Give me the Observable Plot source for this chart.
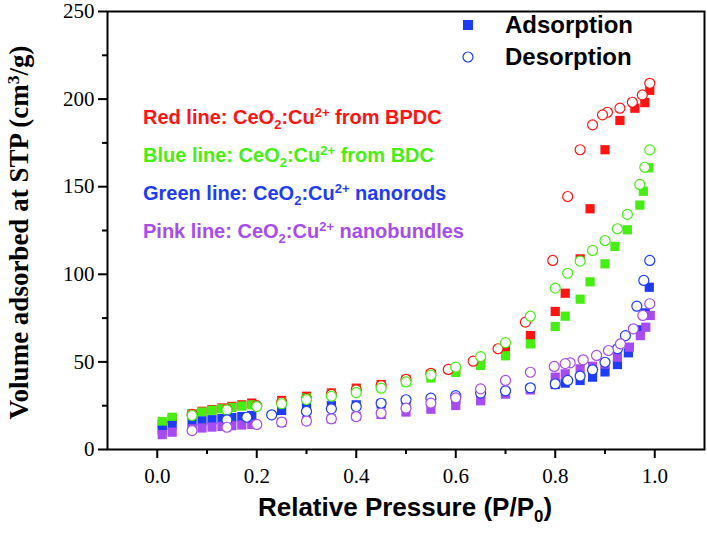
<!DOCTYPE html>
<html>
<head>
<meta charset="utf-8">
<script src="https://cdn.jsdelivr.net/npm/d3@7"></script>
<script src="https://cdn.jsdelivr.net/npm/@observablehq/plot@0.6"></script>
<style>
  html, body { margin: 0; padding: 0; background: white; }
  #wrap { position: relative; width: 707px; height: 536px; overflow: hidden; }
  .lbl { position: absolute; white-space: nowrap; font-family: "Liberation Sans", Arial, sans-serif; font-weight: bold; line-height: 1; }
  .lbl sub, .lbl sup { font-size: 0.65em; line-height: 0; }
  .lbl sub { vertical-align: -0.35em; }
  .lbl sup { vertical-align: 0.55em; }
</style>
</head>
<body>
<div id="wrap"></div>
<script>
// ---- data ----
const seriesNames = ["BPDC", "BDC", "nanorods", "nanobundles"];
const seriesColors = ["#ff1414", "#46ee14", "#1e3cf5", "#a64cf0"];

const xMajorTicks = [0, 0.2, 0.4, 0.6, 0.8, 1.0];
const xMinorTicks = [0.1, 0.3, 0.5, 0.7, 0.9];
const yMajorTicks = [0, 50, 100, 150, 200, 250];
const yMinorTicks = [25, 75, 125, 175, 225];

// Red: CeO2:Cu2+ from BPDC
const redAdsX = [0.01,0.03,0.07,0.09,0.11,0.13,0.15,0.17,0.19,0.25,0.30,0.35,0.40,0.45,0.50,0.55,0.60,0.65,0.70,0.75,0.80,0.82,0.85,0.87,0.90,0.93,0.96,0.98,0.99];
const redAdsY = [14.5,17.5,20.5,21.8,22.8,23.7,24.6,25.5,26.5,28,30.4,32.3,35,37.1,40,42.8,45.8,49.3,57,65,78.8,89.2,108.8,137.4,171.1,187.8,194.8,198,205];
const redDesX = [0.99,0.975,0.955,0.93,0.905,0.895,0.875,0.85,0.825,0.795,0.74,0.685,0.635,0.585,0.55,0.50,0.45,0.40,0.35,0.30,0.25,0.20,0.14,0.07];
const redDesY = [209,202.4,198.2,194.8,192.5,191,185.3,171.1,144.4,107.9,72.7,57.5,50.4,45.7,43.5,40,36.5,34,31.5,29,27,25,23,20];

// Green: CeO2:Cu2+ from BDC
const greenAdsX = [0.01,0.03,0.07,0.09,0.11,0.13,0.15,0.17,0.19,0.25,0.30,0.35,0.40,0.45,0.50,0.55,0.60,0.65,0.70,0.75,0.80,0.82,0.85,0.87,0.90,0.92,0.945,0.97,0.977,0.988];
const greenAdsY = [16,18.4,20.4,21.4,22.4,23.2,24,24.8,25.5,27,29.5,31.5,33.8,36,38.5,40.8,44,48,53.5,60.3,70.2,76.1,85.8,95.7,106,115.9,125.4,139.5,147.4,160.8];
const greenDesX = [0.99,0.98,0.97,0.945,0.925,0.90,0.875,0.85,0.825,0.80,0.75,0.70,0.65,0.60,0.55,0.50,0.45,0.40,0.35,0.30,0.25,0.20,0.14,0.07];
const greenDesY = [171,161.1,151.3,134.2,126,119.3,113.6,107.5,100.6,92.1,76.1,61,53,47,42.4,38.6,35,32.5,30.4,28.5,26.1,24.5,22.6,19.4];

// Blue: CeO2:Cu2+ nanorods
const blueAdsX = [0.01,0.03,0.07,0.09,0.11,0.13,0.15,0.17,0.19,0.25,0.30,0.35,0.40,0.45,0.50,0.55,0.60,0.65,0.70,0.75,0.80,0.82,0.85,0.875,0.90,0.925,0.947,0.971,0.981,0.989];
const blueAdsY = [11,13.7,15.6,16.3,17,17.6,18.2,18.8,19.4,22.3,24,25,25.5,26,26.2,27.2,28.5,29.9,31.8,34.6,37.1,37.9,39.4,41.3,44.3,48.5,55.2,68.3,78,92.6];
const blueDesX = [0.99,0.978,0.964,0.941,0.925,0.90,0.875,0.85,0.825,0.80,0.75,0.70,0.65,0.60,0.55,0.50,0.45,0.40,0.35,0.30,0.23,0.18,0.14];
const blueDesY = [107.9,96.5,81.8,65,57.5,49.8,45.5,41.9,39.4,37.5,35.2,33.5,32.2,30.7,29.3,28.4,26.4,24.5,23.2,21.7,19.8,18.4,16.9];

// Purple: CeO2:Cu2+ nanobundles
const purpleAdsX = [0.01,0.03,0.07,0.09,0.11,0.13,0.15,0.17,0.19,0.25,0.30,0.35,0.40,0.45,0.50,0.55,0.60,0.65,0.70,0.75,0.80,0.82,0.85,0.875,0.90,0.925,0.949,0.971,0.982,0.991];
const purpleAdsY = [8.5,9.9,11.8,12.3,12.8,13.2,13.6,14,14.3,15.5,16.5,17.5,19,20,21.4,23,25.1,27.8,31.8,34,41.3,43.2,46,47.5,48.8,52.7,58.4,65,69.8,76.5];
const purpleDesX = [0.99,0.976,0.957,0.931,0.907,0.883,0.856,0.83,0.82,0.798,0.75,0.70,0.65,0.60,0.55,0.50,0.45,0.40,0.35,0.30,0.25,0.20,0.14,0.07];
const purpleDesY = [83.2,76.5,68.9,60.3,56.5,53.7,51.2,49.5,49,47.4,44.1,39.4,34.6,29.5,26.5,23.6,20.7,18.8,17.5,16.2,15.6,14.3,12.7,10.8];

const labelTexts = [
  'Red line: CeO<sub>2</sub>:Cu<sup>2+</sup> from BPDC',
  'Blue line: CeO<sub>2</sub>:Cu<sup>2+</sup> from BDC',
  'Green line: CeO<sub>2</sub>:Cu<sup>2+</sup> nanorods',
  'Pink line: CeO<sub>2</sub>:Cu<sup>2+</sup> nanobundles'
];
const legendTexts = ["Adsorption", "Desorption"];
const xTitle = 'Relative Pressure (P/P<sub>0</sub>)';
const yTitle = 'Volume adsorbed at STP (cm<sup>3</sup>/g)';

// ---- build tables ----
const adsSets = [[redAdsX, redAdsY], [greenAdsX, greenAdsY], [blueAdsX, blueAdsY], [purpleAdsX, purpleAdsY]];
const desSets = [[redDesX, redDesY], [greenDesX, greenDesY], [blueDesX, blueDesY], [purpleDesX, purpleDesY]];
const ads = [], des = [];
adsSets.forEach(([xs, ys], i) => xs.forEach((x, j) => ads.push({x, y: ys[j], series: seriesNames[i]})));
desSets.forEach(([xs, ys], i) => xs.forEach((x, j) => des.push({x, y: ys[j], series: seriesNames[i]})));

const chart = Plot.plot({
  width: 707,
  height: 536,
  marginLeft: 107,
  marginRight: 3,
  marginTop: 11,
  marginBottom: 87,
  x: {domain: [-0.1, 1.1]},
  y: {domain: [0, 250]},
  color: {type: "ordinal", domain: seriesNames, range: seriesColors},
  style: {fontFamily: "'Liberation Serif', 'Times New Roman', serif", fontSize: "21px", color: "black", background: "white"},
  marks: [
    Plot.axisX({ticks: xMajorTicks, tickSize: 9, tickPadding: 10, tickFormat: d => d.toFixed(1), label: null, strokeWidth: 2}),
    Plot.axisX({ticks: xMinorTicks, tickSize: 5, text: null, label: null, strokeWidth: 2}),
    Plot.axisY({ticks: yMajorTicks, tickSize: 9, tickPadding: 4, label: null, strokeWidth: 2}),
    Plot.axisY({ticks: yMinorTicks, tickSize: 5, text: null, label: null, strokeWidth: 2}),
    Plot.dot(ads, {x: "x", y: "y", fill: "series", symbol: "square", r: 5.2}),
    Plot.dot(des, {x: "x", y: "y", stroke: "series", fill: "white", symbol: "circle", r: 5, strokeWidth: 1.2}),
    Plot.frame({stroke: "black", strokeWidth: 2})
  ]
});

const wrap = document.getElementById("wrap");
wrap.appendChild(chart);

function addLabel(html, css) {
  const d = document.createElement("div");
  d.className = "lbl";
  d.innerHTML = html;
  Object.assign(d.style, css);
  wrap.appendChild(d);
  return d;
}

// coloured sample labels
const labelTops = [107, 145, 183, 221];
labelTexts.forEach((t, i) => addLabel(t, {left: "143px", top: labelTops[i] + "px", fontSize: "20px", color: seriesColors[i]}));

// legend
const legSvg = d3.select(wrap).append("svg")
  .attr("width", 707).attr("height", 536)
  .style("position", "absolute").style("left", 0).style("top", 0);
legSvg.append("rect").attr("x", 463).attr("y", 20).attr("width", 10).attr("height", 10).attr("fill", seriesColors[2]);
legSvg.append("circle").attr("cx", 468).attr("cy", 57).attr("r", 5).attr("fill", "white").attr("stroke", seriesColors[2]).attr("stroke-width", 1.2);
addLabel(legendTexts[0], {left: "505px", top: "13px", fontSize: "24px", color: "black"});
addLabel(legendTexts[1], {left: "505px", top: "45px", fontSize: "24px", color: "black"});

// axis titles
addLabel(xTitle, {left: "0px", width: "810px", textAlign: "center", top: "494px", fontSize: "26px", color: "black"});
const yt = addLabel(yTitle, {fontFamily: "'Liberation Serif', 'Times New Roman', serif", fontSize: "27px", color: "black"});
const w = yt.offsetWidth, h = yt.offsetHeight;
yt.style.left = (20 - w / 2) + "px";
yt.style.top = (232 - h / 2) + "px";
yt.style.transform = "rotate(-90deg)";
</script>
</body>
</html>
